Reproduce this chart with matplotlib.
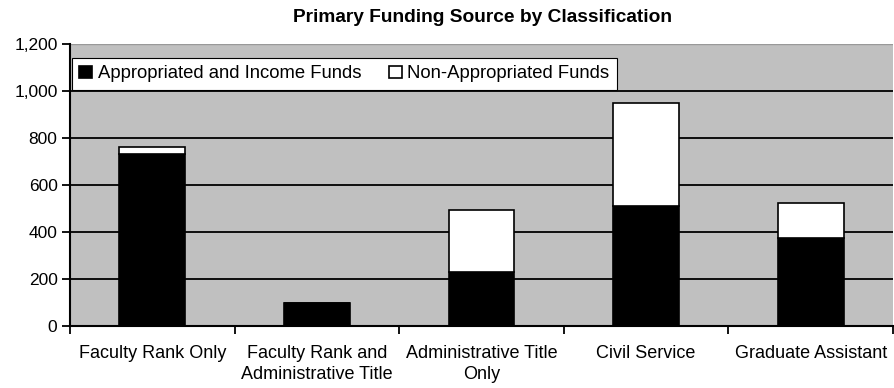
import matplotlib.pyplot as plt
import numpy as np

plt.rcParams['font.family'] = ['Liberation Sans', 'DejaVu Sans']

categories = ['Faculty Rank Only', 'Faculty Rank and\nAdministrative Title',
              'Administrative Title\nOnly', 'Civil Service', 'Graduate Assistant']
appropriated = [730, 100, 230, 510, 375]
non_appropriated = [30, 0, 265, 440, 150]
y_ticks = [0, 200, 400, 600, 800, 1000, 1200]

fig = plt.figure(figsize=(8.94, 3.88), dpi=100)
ax = fig.add_axes([70 / 894, 1 - 326 / 388, 823 / 894, 282 / 388])
ax.set_facecolor('#c0c0c0')

x = np.arange(len(categories))
ax.bar(x, appropriated, width=0.4, color='black', edgecolor='black',
       linewidth=1.2, label='Appropriated and Income Funds', zorder=3)
ax.bar(x, non_appropriated, width=0.4, bottom=appropriated, color='white',
       edgecolor='black', linewidth=1.2, label='Non-Appropriated Funds', zorder=3)

ax.set_xlim(-0.5, len(categories) - 0.5)
ax.set_ylim(0, 1200)
ax.set_yticks(y_ticks)
ax.set_yticklabels([f'{v:,}' for v in y_ticks], fontsize=12.5)
for v in y_ticks[1:-1]:
    ax.axhline(v, color='black', linewidth=1.3, zorder=1)
ax.axhline(1200, color='#999999', linewidth=1.0, zorder=1)

# category labels centred on bars, tick marks between categories
ax.set_xticks(x)
ax.set_xticklabels(categories, fontsize=13, linespacing=1.3)
ax.tick_params(axis='x', length=0, pad=14)
ax.set_xticks(np.arange(len(categories) + 1) - 0.5, minor=True)
ax.tick_params(axis='x', which='minor', length=6, width=1.3, color='black')
ax.tick_params(axis='y', length=6, width=1.3, color='black', pad=3)

for side in ['top', 'right']:
    ax.spines[side].set_visible(False)
for side in ['left', 'bottom']:
    ax.spines[side].set_linewidth(1.5)
    ax.spines[side].set_zorder(4)

leg = ax.legend(loc='upper left', ncol=2, fontsize=13.3, frameon=True, fancybox=False,
                handlelength=0.7, handleheight=0.7, handletextpad=0.3,
                columnspacing=1.5, borderpad=0.4, borderaxespad=0.0,
                bbox_to_anchor=(0.002, 0.95))
leg.get_frame().set_edgecolor('black')
leg.get_frame().set_linewidth(0.8)
leg.get_frame().set_facecolor('white')
leg.get_frame().set_alpha(1)

fig.text(482 / 894, 1 - 17 / 388, 'Primary Funding Source by Classification',
         ha='center', va='center', fontsize=13.8, fontweight='bold')

fig.savefig('out.png', dpi=100, facecolor='white')
